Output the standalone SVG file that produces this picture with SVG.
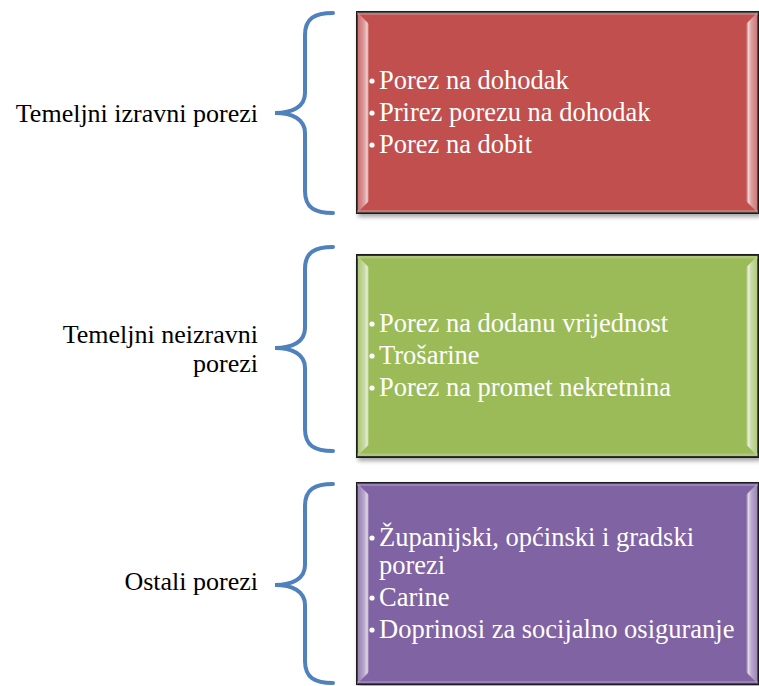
<svg xmlns="http://www.w3.org/2000/svg" width="759" height="686" viewBox="0 0 759 686">
<style>
.lbl{font-size:26px;fill:#000;text-anchor:end}
.itm{font-size:26.5px;fill:#fff}
.brace{fill:none;stroke:#4F81BD;stroke-width:4;stroke-linecap:round}
.box{stroke:#1a1a1a;stroke-width:2;filter:url(#sh)}
.bul{fill:#fff}
</style>
<defs>
<filter id="sh" x="-5%" y="-5%" width="115%" height="115%">
<feDropShadow dx="2" dy="3" stdDeviation="2" flood-color="#000" flood-opacity="0.35"/>
</filter>
<linearGradient id="gl" x1="0" y1="0" x2="1" y2="0">
<stop offset="0" stop-color="#fff" stop-opacity="0.15"/>
<stop offset="0.6" stop-color="#fff" stop-opacity="0.45"/>
<stop offset="0.85" stop-color="#fff" stop-opacity="0.75"/>
<stop offset="1" stop-color="#fff" stop-opacity="0"/>
</linearGradient>
<linearGradient id="gr" x1="0" y1="0" x2="1" y2="0">
<stop offset="0" stop-color="#fff" stop-opacity="0"/>
<stop offset="0.2" stop-color="#fff" stop-opacity="0.75"/>
<stop offset="0.45" stop-color="#fff" stop-opacity="0.45"/>
<stop offset="1" stop-color="#fff" stop-opacity="0.2"/>
</linearGradient>
<g id="bevel">
<path d="M0,0 H401 V3 H0 Z" fill="#fff" fill-opacity="0.2"/>
<path d="M0,0 L12,12 L12,189 L0,201 Z" fill="url(#gl)"/>
<path d="M401,0 L389,12 L389,189 L401,201 Z" fill="url(#gr)"/>
<path d="M0,198 H401 V201 H0 Z" fill="#fff" fill-opacity="0.2"/>
</g>
</defs>

<g id="connectors">
<path class="brace" d="M333,13 C315,13 305,18 305,35 L305,93 C305,107 292,113 275,113 C292,113 305,119 305,133 L305,191 C305,208 315,213 333,213"/>
<path class="brace" d="M333,247 C315,247 305,252 305,269 L305,328 C305,342 292,348 275,348 C292,348 305,354 305,368 L305,429 C305,446 315,451 333,451"/>
<path class="brace" d="M333,484 C315,484 305,489 305,506 L305,565 C305,579 292,585 275,585 C292,585 305,591 305,605 L305,661 C305,678 315,683 333,683"/>
</g>

<g font-family="Liberation Serif, DejaVu Serif, serif">
<g id="label1">
<text class="lbl" x="258" y="122">Temeljni izravni porezi</text>
</g>
<g id="label2">
<text class="lbl" x="258" y="343">Temeljni neizravni</text>
<text class="lbl" x="258" y="372">porezi</text>
</g>
<g id="label3">
<text class="lbl" x="258" y="590">Ostali porezi</text>
</g>

<g id="box1">
<rect class="box" x="357" y="12" width="401" height="201" fill="#C0504D"/>
<use href="#bevel" transform="translate(357,12)"/>
<circle class="bul" cx="372" cy="81" r="2.6"/>
<circle class="bul" cx="372" cy="113" r="2.6"/>
<circle class="bul" cx="372" cy="145" r="2.6"/>
<text class="itm" x="379" y="89">Porez na dohodak</text>
<text class="itm" x="379" y="121">Prirez porezu na dohodak</text>
<text class="itm" x="379" y="153">Porez na dobit</text>
</g>

<g id="box2">
<rect class="box" x="357" y="255" width="401" height="202" fill="#9BBB59"/>
<use href="#bevel" transform="translate(357,255.5)"/>
<circle class="bul" cx="372" cy="324" r="2.6"/>
<circle class="bul" cx="372" cy="356" r="2.6"/>
<circle class="bul" cx="372" cy="388" r="2.6"/>
<text class="itm" x="379" y="332">Porez na dodanu vrijednost</text>
<text class="itm" x="379" y="364">Trošarine</text>
<text class="itm" x="379" y="396">Porez na promet nekretnina</text>
</g>

<g id="box3">
<rect class="box" x="357" y="483" width="401" height="201" fill="#8064A2"/>
<use href="#bevel" transform="translate(357,483)"/>
<circle class="bul" cx="372" cy="538" r="2.6"/>
<circle class="bul" cx="372" cy="598" r="2.6"/>
<circle class="bul" cx="372" cy="630" r="2.6"/>
<text class="itm" x="379" y="546">Županijski, općinski i gradski</text>
<text class="itm" x="379" y="574">porezi</text>
<text class="itm" x="379" y="606">Carine</text>
<text class="itm" x="379" y="638">Doprinosi za socijalno osiguranje</text>
</g>
</g>
</svg>
